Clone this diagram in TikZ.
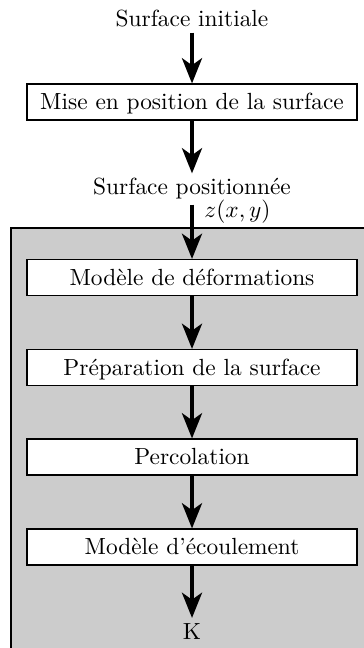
\documentclass[tikz,border=0pt]{standalone}
\usetikzlibrary{arrows.meta}
\begin{document}
\begin{tikzpicture}[x=0.428pt,y=-0.428pt,
  stepbox/.style={draw=black,fill=white,line width=0.5pt,minimum width=330*0.428pt,minimum height=36*0.428pt,inner sep=0pt,text height=7.6pt,text depth=0.8pt},
  lbl/.style={inner sep=2pt},
  flow/.style={line width=1.45pt,-{Stealth[length=10.8pt,width=8.6pt,inset=3pt]}}]
\useasboundingbox (0,0) rectangle (363,648);
\fill[black!20] (11,228) rectangle (380,670);
\draw[line width=0.6pt] (380,228) -- (11,228) -- (11,670);
\node[lbl,anchor=base] (init) at (192,27) {Surface initiale};
\node[stepbox] (mise) at (192,102) {Mise en position de la surface};
\node[lbl,anchor=base] (pos) at (192,195) {Surface positionnée};
\node[inner sep=0pt,anchor=base west] (zxy) at (204,218) {$z(x,y)$};
\node[stepbox] (def) at (192,277.5) {Modèle de déformations};
\node[stepbox] (prep) at (192,367.5) {Préparation de la surface};
\node[stepbox] (perc) at (192,457) {Percolation};
\node[stepbox] (ecou) at (192,547) {Modèle d'écoulement};
\node[lbl,anchor=base] (k) at (192,639) {K};
\draw[flow] (init) -- (mise);
\draw[flow] (mise) -- (pos);
\draw[flow] (pos) -- (def);
\draw[flow] (def) -- (prep);
\draw[flow] (prep) -- (perc);
\draw[flow] (perc) -- (ecou);
\draw[flow] (ecou) -- (k);
\end{tikzpicture}
\end{document}
